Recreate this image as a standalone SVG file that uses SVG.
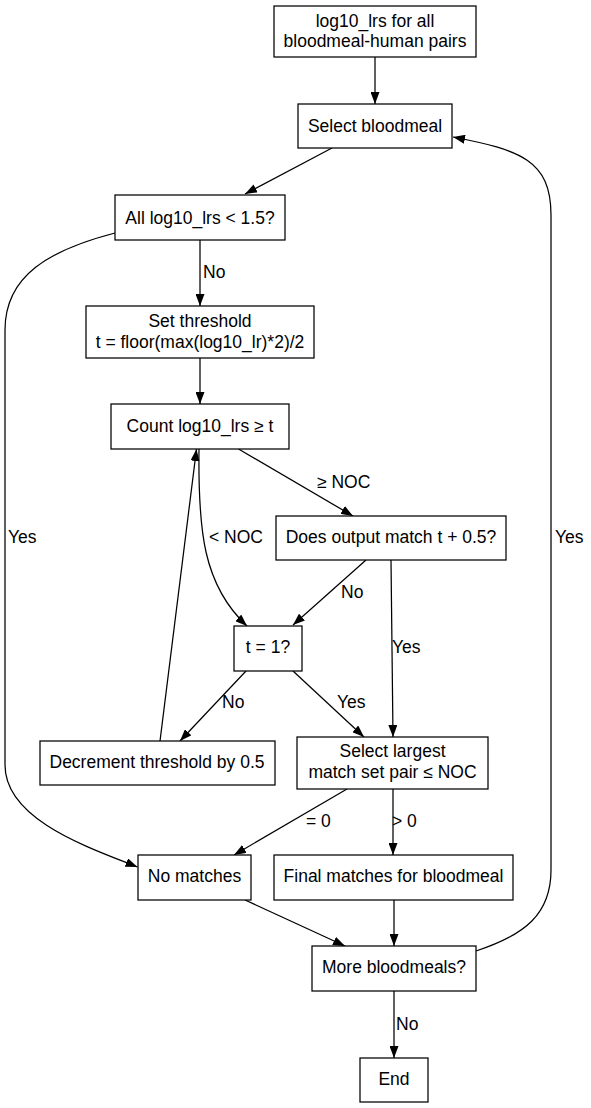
<svg xmlns="http://www.w3.org/2000/svg" width="591" height="1108" viewBox="0 0 591 1108">
<defs>
<marker id="arr" markerUnits="userSpaceOnUse" markerWidth="12" markerHeight="9" refX="12" refY="4.5" orient="auto">
<path d="M0,0 L12,4.5 L0,9 z" fill="#000"/>
</marker>
<style>
.n rect{fill:#fff;stroke:#000;stroke-width:1.25}
.n text,.lbl{font-family:"Liberation Sans",Arial,sans-serif;font-size:17.5px;fill:#000}
.n text{text-anchor:middle}
#edges path{fill:none;stroke:#000;stroke-width:1.25;marker-end:url(#arr)}
</style>
</defs>
<rect width="591" height="1108" fill="#fff"/>
<g id="edges">
<path d="M375,57 L375,104"/>
<path d="M332,148 L245,194"/>
<path d="M200,240 L200,306"/>
<path d="M200,358 L200,404"/>
<path d="M238.5,449 L353,516"/>
<path d="M199,449 C198,530 203,585 247,626"/>
<path d="M366,560 L293,625"/>
<path d="M391,560 L393,737"/>
<path d="M246,671 L180,741"/>
<path d="M293,671 L364,737"/>
<path d="M160,741 L196.5,449"/>
<path d="M347,789 L234,855"/>
<path d="M393,789 L393,855"/>
<path d="M115,233 C50,250 5,275 5,330 L5,765 C5,820 90,848 137.5,867"/>
<path d="M245,900 L345,946"/>
<path d="M394,900 L394,946"/>
<path d="M394,991 L394,1058"/>
<path d="M476,951 C525,935 551,914 551,870 L551,215 C551,160 520,150 453,137"/>
</g>
<g id="edge-labels">
<text class="lbl" x="203" y="278">No</text>
<text class="lbl" x="317" y="488">≥ NOC</text>
<text class="lbl" x="8" y="543">Yes</text>
<text class="lbl" x="209" y="543">&lt; NOC</text>
<text class="lbl" x="555" y="543">Yes</text>
<text class="lbl" x="341" y="598">No</text>
<text class="lbl" x="392" y="653">Yes</text>
<text class="lbl" x="222" y="708">No</text>
<text class="lbl" x="337" y="708">Yes</text>
<text class="lbl" x="306" y="827">= 0</text>
<text class="lbl" x="392" y="827">&gt; 0</text>
<text class="lbl" x="396" y="1030">No</text>
</g>
<g id="n1" class="n"><rect x="274" y="6" width="202" height="51"/><text x="375" y="27">log10_lrs for all</text><text x="375" y="47">bloodmeal-human pairs</text></g>
<g id="n2" class="n"><rect x="298" y="104" width="154" height="44"/><text x="375" y="132">Select bloodmeal</text></g>
<g id="n3" class="n"><rect x="115" y="195" width="170" height="45"/><text x="200" y="224">All log10_lrs &lt; 1.5?</text></g>
<g id="n4" class="n"><rect x="86" y="306" width="228" height="52"/><text x="200" y="327">Set threshold</text><text x="200" y="348">t = floor(max(log10_lr)*2)/2</text></g>
<g id="n5" class="n"><rect x="111" y="404" width="178" height="45"/><text x="200" y="432">Count log10_lrs ≥ t</text></g>
<g id="n6" class="n"><rect x="276" y="516" width="230" height="44"/><text x="391" y="543">Does output match t + 0.5?</text></g>
<g id="n7" class="n"><rect x="234" y="626" width="68" height="45"/><text x="268" y="653">t = 1?</text></g>
<g id="n8" class="n"><rect x="40" y="741" width="235" height="44"/><text x="157" y="768">Decrement threshold by 0.5</text></g>
<g id="n9" class="n"><rect x="297" y="737" width="191" height="52"/><text x="392.5" y="757">Select largest</text><text x="392.5" y="778">match set pair ≤ NOC</text></g>
<g id="n10" class="n"><rect x="138" y="855" width="113" height="45"/><text x="194.5" y="882">No matches</text></g>
<g id="n11" class="n"><rect x="274" y="855" width="239" height="45"/><text x="393.5" y="882">Final matches for bloodmeal</text></g>
<g id="n12" class="n"><rect x="312" y="946" width="164" height="45"/><text x="394" y="973">More bloodmeals?</text></g>
<g id="n13" class="n"><rect x="360" y="1058" width="68" height="44"/><text x="394" y="1085">End</text></g>
</svg>
